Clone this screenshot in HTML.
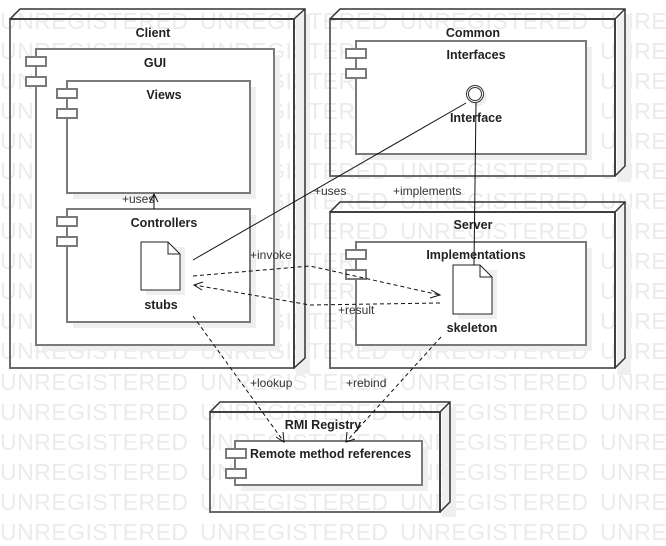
<!DOCTYPE html>
<html><head><meta charset="utf-8"><style>
html,body{margin:0;padding:0;background:#fff;}
svg{display:block;}
text{font-family:"Liberation Sans",Arial,sans-serif;}
.wm{fill:#ebebeb;font-size:23px;}
.b{font-weight:bold;font-size:12.5px;fill:#222;}
.l{font-size:12px;fill:#333;}
.comp{fill:#fff;stroke:#7a7a7a;stroke-width:2;}
.ic{fill:#fff;stroke:#7a7a7a;stroke-width:2;}
.sh{fill:#efefef;}
.nf{fill:none;stroke:#6a6a6a;stroke-width:2;}
.nd{fill:none;stroke:#333;stroke-width:1.5;}
.ln{fill:none;stroke:#111;stroke-width:1;}
.dl{fill:none;stroke:#111;stroke-width:1;stroke-dasharray:4,3;}
</style></head><body>
<svg width="666" height="546" viewBox="0 0 666 546" xmlns="http://www.w3.org/2000/svg">
<g class="wm">
<text x="0" y="29" textLength="188">UNREGISTERED</text><text x="200" y="29" textLength="188">UNREGISTERED</text><text x="400" y="29" textLength="188">UNREGISTERED</text><text x="600" y="29" textLength="188">UNREGISTERED</text>
<text x="0" y="59" textLength="188">UNREGISTERED</text><text x="200" y="59" textLength="188">UNREGISTERED</text><text x="400" y="59" textLength="188">UNREGISTERED</text><text x="600" y="59" textLength="188">UNREGISTERED</text>
<text x="0" y="89" textLength="188">UNREGISTERED</text><text x="200" y="89" textLength="188">UNREGISTERED</text><text x="400" y="89" textLength="188">UNREGISTERED</text><text x="600" y="89" textLength="188">UNREGISTERED</text>
<text x="0" y="119" textLength="188">UNREGISTERED</text><text x="200" y="119" textLength="188">UNREGISTERED</text><text x="400" y="119" textLength="188">UNREGISTERED</text><text x="600" y="119" textLength="188">UNREGISTERED</text>
<text x="0" y="149" textLength="188">UNREGISTERED</text><text x="200" y="149" textLength="188">UNREGISTERED</text><text x="400" y="149" textLength="188">UNREGISTERED</text><text x="600" y="149" textLength="188">UNREGISTERED</text>
<text x="0" y="179" textLength="188">UNREGISTERED</text><text x="200" y="179" textLength="188">UNREGISTERED</text><text x="400" y="179" textLength="188">UNREGISTERED</text><text x="600" y="179" textLength="188">UNREGISTERED</text>
<text x="0" y="209" textLength="188">UNREGISTERED</text><text x="200" y="209" textLength="188">UNREGISTERED</text><text x="400" y="209" textLength="188">UNREGISTERED</text><text x="600" y="209" textLength="188">UNREGISTERED</text>
<text x="0" y="239" textLength="188">UNREGISTERED</text><text x="200" y="239" textLength="188">UNREGISTERED</text><text x="400" y="239" textLength="188">UNREGISTERED</text><text x="600" y="239" textLength="188">UNREGISTERED</text>
<text x="0" y="269" textLength="188">UNREGISTERED</text><text x="200" y="269" textLength="188">UNREGISTERED</text><text x="400" y="269" textLength="188">UNREGISTERED</text><text x="600" y="269" textLength="188">UNREGISTERED</text>
<text x="0" y="299" textLength="188">UNREGISTERED</text><text x="200" y="299" textLength="188">UNREGISTERED</text><text x="400" y="299" textLength="188">UNREGISTERED</text><text x="600" y="299" textLength="188">UNREGISTERED</text>
<text x="0" y="329" textLength="188">UNREGISTERED</text><text x="200" y="329" textLength="188">UNREGISTERED</text><text x="400" y="329" textLength="188">UNREGISTERED</text><text x="600" y="329" textLength="188">UNREGISTERED</text>
<text x="0" y="359" textLength="188">UNREGISTERED</text><text x="200" y="359" textLength="188">UNREGISTERED</text><text x="400" y="359" textLength="188">UNREGISTERED</text><text x="600" y="359" textLength="188">UNREGISTERED</text>
<text x="0" y="390" textLength="188">UNREGISTERED</text><text x="200" y="390" textLength="188">UNREGISTERED</text><text x="400" y="390" textLength="188">UNREGISTERED</text><text x="600" y="390" textLength="188">UNREGISTERED</text>
<text x="0" y="420" textLength="188">UNREGISTERED</text><text x="200" y="420" textLength="188">UNREGISTERED</text><text x="400" y="420" textLength="188">UNREGISTERED</text><text x="600" y="420" textLength="188">UNREGISTERED</text>
<text x="0" y="450" textLength="188">UNREGISTERED</text><text x="200" y="450" textLength="188">UNREGISTERED</text><text x="400" y="450" textLength="188">UNREGISTERED</text><text x="600" y="450" textLength="188">UNREGISTERED</text>
<text x="0" y="480" textLength="188">UNREGISTERED</text><text x="200" y="480" textLength="188">UNREGISTERED</text><text x="400" y="480" textLength="188">UNREGISTERED</text><text x="600" y="480" textLength="188">UNREGISTERED</text>
<text x="0" y="510" textLength="188">UNREGISTERED</text><text x="200" y="510" textLength="188">UNREGISTERED</text><text x="400" y="510" textLength="188">UNREGISTERED</text><text x="600" y="510" textLength="188">UNREGISTERED</text>
<text x="0" y="540" textLength="188">UNREGISTERED</text><text x="200" y="540" textLength="188">UNREGISTERED</text><text x="400" y="540" textLength="188">UNREGISTERED</text><text x="600" y="540" textLength="188">UNREGISTERED</text>
</g>

<rect class="sh" x="296" y="14" width="14" height="360"/>
<rect class="nf" x="10" y="19" width="284" height="349"/>
<path class="nd" d="M10,19 L20,9 L305,9 L305,358 L294,368 M294,19 L305,9 M10,19 L294,19 L294,368"/>
<rect class="sh" x="617" y="14" width="14" height="168"/>
<rect class="nf" x="330" y="19" width="285" height="157"/>
<path class="nd" d="M330,19 L340,9 L625,9 L625,166 L615,176 M615,19 L625,9 M330,19 L615,19 L615,176"/>
<rect class="sh" x="617" y="207" width="14" height="168"/>
<rect class="nf" x="330" y="212" width="285" height="156"/>
<path class="nd" d="M330,212 L340,202 L625,202 L625,358 L615,368 M615,212 L625,202 M330,212 L615,212 L615,368"/>
<rect class="sh" x="442" y="407" width="14" height="110"/>
<rect class="nf" x="210" y="412" width="230" height="100"/>
<path class="nd" d="M210,412 L220,402 L450,402 L450,502 L440,512 M440,412 L450,402 M210,412 L440,412 L440,512"/>

<text class="b" x="153" y="37" text-anchor="middle">Client</text>
<text class="b" x="473" y="37" text-anchor="middle">Common</text>
<text class="b" x="473" y="229" text-anchor="middle">Server</text>
<text class="b" x="323" y="429" text-anchor="middle">RMI Registry</text>

<rect class="sh" x="42" y="55" width="238" height="296"/>
<rect class="comp" x="36" y="49" width="238" height="296"/>
<rect class="ic" x="26" y="57" width="20" height="9"/><rect class="ic" x="26" y="77" width="20" height="9"/>
<text class="b" x="155" y="67" text-anchor="middle">GUI</text>

<rect class="sh" x="73" y="87" width="183" height="112"/>
<rect class="comp" x="67" y="81" width="183" height="112"/>
<rect class="ic" x="57" y="89" width="20" height="9"/><rect class="ic" x="57" y="109" width="20" height="9"/>
<text class="b" x="164" y="99" text-anchor="middle">Views</text>

<rect class="sh" x="73" y="215" width="183" height="113"/>
<rect class="comp" x="67" y="209" width="183" height="113"/>
<rect class="ic" x="57" y="217" width="20" height="9"/><rect class="ic" x="57" y="237" width="20" height="9"/>
<text class="b" x="164" y="227" text-anchor="middle">Controllers</text>

<rect class="sh" x="362" y="47" width="230" height="113"/>
<rect class="comp" x="356" y="41" width="230" height="113"/>
<rect class="ic" x="346" y="49" width="20" height="9"/><rect class="ic" x="346" y="69" width="20" height="9"/>
<text class="b" x="476" y="59" text-anchor="middle">Interfaces</text>

<rect class="sh" x="362" y="248" width="230" height="103"/>
<rect class="comp" x="356" y="242" width="230" height="103"/>
<rect class="ic" x="346" y="250" width="20" height="9"/><rect class="ic" x="346" y="270" width="20" height="9"/>
<text class="b" x="476" y="259" text-anchor="middle">Implementations</text>

<rect class="sh" x="241" y="447" width="187" height="44"/>
<rect class="comp" x="235" y="441" width="187" height="44"/>
<rect class="ic" x="226" y="449" width="20" height="9"/><rect class="ic" x="226" y="469" width="20" height="9"/>
<text class="b" x="250" y="458">Remote method references</text>

<circle cx="478" cy="97" r="9" fill="#eee"/>
<circle cx="475" cy="94" r="8.5" fill="#fff" stroke="#333" stroke-width="1"/>
<circle cx="475" cy="94" r="6.5" fill="none" stroke="#333" stroke-width="1"/>
<text class="b" x="476" y="122" text-anchor="middle">Interface</text>

<rect class="sh" x="146" y="247" width="39" height="48"/>
<path d="M141,242 L168,242 L180,254 L180,290 L141,290 Z" fill="#fff" stroke="#222" stroke-width="1"/>
<path d="M168,242 L168,254 L180,254" fill="none" stroke="#222" stroke-width="1"/>
<text class="b" x="161" y="309" text-anchor="middle">stubs</text>

<rect class="sh" x="458" y="270" width="39" height="49"/>
<path d="M453,265 L480,265 L492,277 L492,314 L453,314 Z" fill="#fff" stroke="#222" stroke-width="1"/>
<path d="M480,265 L480,277 L492,277" fill="none" stroke="#222" stroke-width="1"/>
<text class="b" x="472" y="332" text-anchor="middle">skeleton</text>

<path class="ln" d="M154,209 L154,194 M150,202 L154,194 L158,202"/>
<text class="l" x="122" y="203">+uses</text>

<path class="ln" d="M193,260 L466,103"/>
<text class="l" x="314" y="195">+uses</text>

<path class="ln" d="M476,103 L474,265"/>
<text class="l" x="393" y="195">+implements</text>

<path class="dl" d="M193,276 L310,266 L440,295"/>
<path class="ln" d="M431,290 L440,295 L430,298"/>
<text class="l" x="250" y="259">+invoke</text>

<path class="dl" d="M440,303 L310,305 L194,285"/>
<path class="ln" d="M203,282 L194,285 L202,290"/>
<text class="l" x="338" y="314">+result</text>

<path class="dl" d="M193,316 L284,442"/>
<path class="ln" d="M276,437 L284,442 L283,432"/>
<text class="l" x="250" y="387">+lookup</text>

<path class="dl" d="M441,337 L346,442"/>
<path class="ln" d="M347,432 L346,442 L355,439"/>
<text class="l" x="346" y="387">+rebind</text>
</svg>
</body></html>
